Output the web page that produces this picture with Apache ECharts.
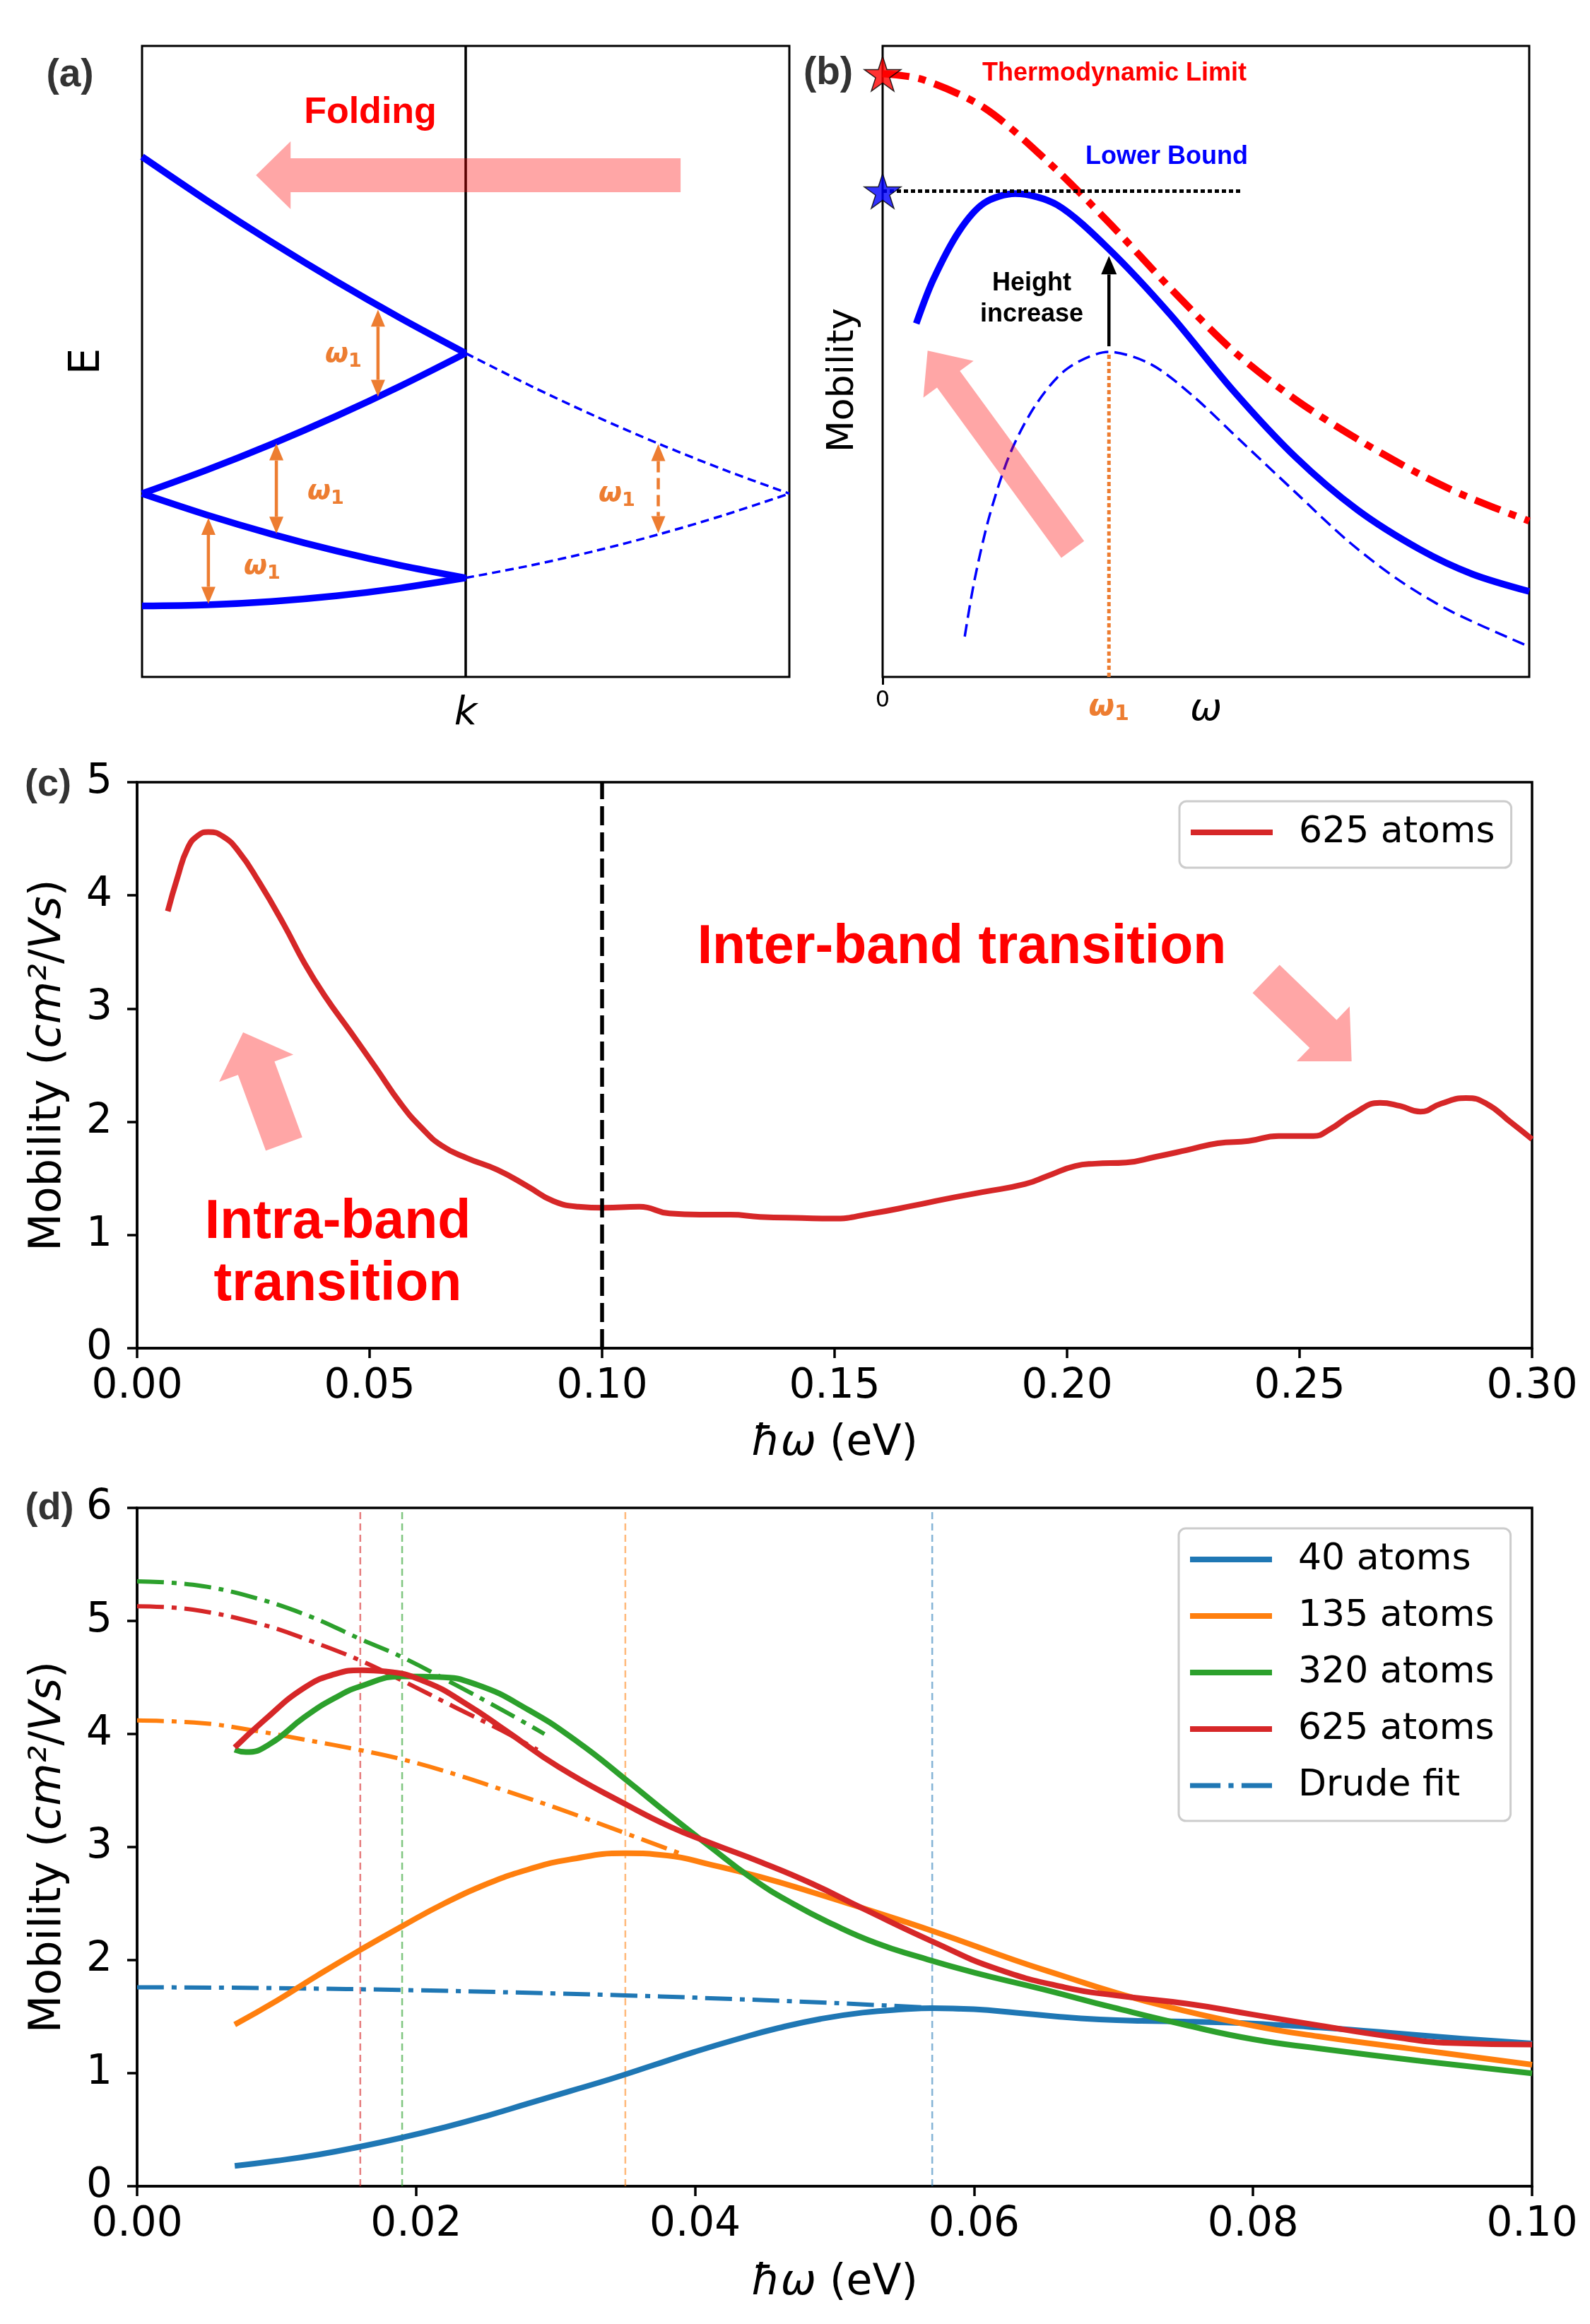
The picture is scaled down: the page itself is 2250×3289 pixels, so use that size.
<!DOCTYPE html>
<html><head><meta charset="utf-8">
<script src="https://cdn.jsdelivr.net/npm/echarts@6/dist/echarts.min.js"></script>
<style>html,body{margin:0;padding:0;background:#fff}#chart{width:2250px;height:3289px}</style>
</head><body><div id="chart"></div>
<script>
// ================= DATA =================
// Panel (a): schematic folded bands (x: k in 0..2, boundary at 1; y: E in 0..10)
const aBand1 = [[0,1.125],[0.2,1.143],[0.4,1.196],[0.6,1.285],[0.8,1.41],[1,1.57]];
const aBand2 = [[0,2.905],[0.2,2.567],[0.4,2.264],[0.6,1.997],[0.8,1.766],[1,1.57]];
const aBand3 = [[0,2.905],[0.2,3.279],[0.4,3.688],[0.6,4.133],[0.8,4.614],[1,5.13]];
const aBand4 = [[0,8.245],[0.2,7.551],[0.4,6.892],[0.6,6.269],[0.8,5.682],[1,5.13]];
const aDashLow = [[1,1.57],[1.2,1.766],[1.4,1.997],[1.6,2.264],[1.8,2.567],[2,2.905]];
const aDashUp = [[1,5.13],[1.2,4.614],[1.4,4.133],[1.6,3.688],[1.8,3.279],[2,2.905]];
const aBoundary = [[1,0],[1,10]];
const aGapArrows = [[0.729,5.82,4.44],[0.415,3.70,2.27],[0.205,2.52,1.16]]; // x, yTop, yBottom
const aGapArrowDashed = [[1.595,3.69,2.28]];
const aFoldArrow = [[1.664,7.95,0.352,7.95]]; // tail x,y -> tip x,y

// Panel (b): schematic mobility (x: omega 0..10, y: 0..10)
const bThermo = [[0,9.56],[0.61,9.47],[1.57,9.02],[2.54,8.18],[3.5,7.20],[4.46,6.15],[5.42,5.17],[6.38,4.40],[7.34,3.77],[8.31,3.21],[9.03,2.86],[10,2.47]];
const bLower = [[0.52,5.60],[0.78,6.29],[1.18,7.06],[1.57,7.51],[2.05,7.66],[2.70,7.48],[3.5,6.78],[4.46,5.73],[5.42,4.54],[6.38,3.49],[7.34,2.65],[8.31,2.02],[9.12,1.63],[10,1.355]];
const bFinite = [[1.27,0.64],[1.42,1.53],[1.66,2.58],[1.98,3.56],[2.38,4.33],[2.86,4.89],[3.5,5.15],[4.14,4.96],[4.78,4.47],[5.58,3.70],[6.38,2.93],[7.19,2.16],[7.99,1.53],[8.79,1.04],[10,0.48]];
const bPeakLevel = [[0,7.70],[5.54,7.70]];
const bOmega1 = [[3.5,0],[3.5,5.15]];
const bStars = [[0,9.56],[0,7.70]];
const bHeightArrow = [[3.5,5.24,6.67]]; // x, yFrom, yTo
const bGrowArrow = [[2.94,2.02,0.696,5.17]];
const bTicks = [0];
const bLabels = [0, 3.5];

// Panel (c): 625 atoms over wide range
const c625 = [[0.0066,3.86],[0.0087,4.16],[0.0109,4.42],[0.0131,4.53],[0.0153,4.56],[0.0185,4.52],[0.0218,4.39],[0.0262,4.12],[0.0316,3.74],[0.036,3.40],[0.0404,3.11],[0.0458,2.80],[0.0513,2.48],[0.0567,2.16],[0.0611,1.95],[0.0655,1.79],[0.0709,1.68],[0.0775,1.575],[0.084,1.43],[0.0895,1.30],[0.0949,1.25],[0.1004,1.24],[0.108,1.25],[0.1145,1.19],[0.121,1.18],[0.1276,1.18],[0.134,1.16],[0.143,1.15],[0.1495,1.145],[0.158,1.19],[0.167,1.26],[0.1735,1.315],[0.182,1.38],[0.191,1.45],[0.196,1.525],[0.2018,1.61],[0.206,1.63],[0.2127,1.64],[0.219,1.69],[0.2258,1.75],[0.2324,1.81],[0.239,1.83],[0.2455,1.875],[0.253,1.875],[0.2564,1.93],[0.2618,2.076],[0.2673,2.168],[0.2716,2.14],[0.276,2.09],[0.2804,2.16],[0.2858,2.21],[0.2902,2.16],[0.2956,1.99],[0.300,1.846]];
const cDivider = [[0.1,0],[0.1,5]];
const cArrows = [[0.0316,1.804,0.0228,2.79],[0.2428,3.262,0.2612,2.534]];

// Panel (d): size dependence
const d40 = [[0.007,0.18],[0.010,0.225],[0.013,0.28],[0.016,0.35],[0.019,0.43],[0.022,0.52],[0.025,0.62],[0.028,0.73],[0.031,0.84],[0.034,0.95],[0.037,1.07],[0.040,1.19],[0.043,1.30],[0.046,1.40],[0.049,1.48],[0.052,1.535],[0.055,1.565],[0.057,1.575],[0.060,1.565],[0.063,1.535],[0.066,1.50],[0.069,1.475],[0.072,1.462],[0.075,1.457],[0.078,1.448],[0.081,1.432],[0.084,1.41],[0.087,1.385],[0.090,1.355],[0.095,1.305],[0.100,1.262]];
const d135 = [[0.007,1.43],[0.010,1.64],[0.013,1.87],[0.016,2.09],[0.019,2.30],[0.022,2.50],[0.025,2.67],[0.028,2.80],[0.031,2.89],[0.035,2.945],[0.038,2.925],[0.0411,2.845],[0.0447,2.735],[0.0484,2.60],[0.052,2.46],[0.0572,2.25],[0.0629,2.0],[0.0665,1.855],[0.0702,1.71],[0.0738,1.59],[0.08,1.42],[0.0847,1.325],[0.092,1.205],[0.1,1.075]];
const d320 = [[0.007,3.86],[0.0078,3.84],[0.0095,3.91],[0.012,4.15],[0.0142,4.32],[0.0162,4.43],[0.019,4.51],[0.0215,4.505],[0.0244,4.434],[0.028,4.217],[0.0316,3.928],[0.0351,3.59],[0.0382,3.28],[0.041,3.01],[0.044,2.73],[0.047,2.50],[0.050,2.31],[0.053,2.15],[0.056,2.03],[0.060,1.89],[0.065,1.74],[0.070,1.58],[0.0753,1.422],[0.08,1.30],[0.0847,1.219],[0.092,1.108],[0.1,0.998]];
const d625 = [[0.007,3.88],[0.0091,4.12],[0.012,4.41],[0.0142,4.53],[0.0161,4.564],[0.0178,4.554],[0.0207,4.46],[0.0236,4.265],[0.0265,4.024],[0.0302,3.71],[0.0351,3.373],[0.0382,3.18],[0.0411,3.036],[0.0447,2.867],[0.0484,2.675],[0.052,2.458],[0.0572,2.154],[0.0615,1.928],[0.0665,1.759],[0.0702,1.687],[0.0753,1.614],[0.08,1.518],[0.0847,1.422],[0.0898,1.325],[0.0942,1.267],[0.1,1.253]];
const drude40 = [[0,1.76],[0.01,1.752],[0.02,1.733],[0.03,1.705],[0.035,1.688],[0.04,1.668],[0.05,1.62],[0.059,1.565]];
const drude135 = [[0,4.12],[0.0047,4.096],[0.0084,4.03],[0.012,3.95],[0.0161,3.855],[0.0192,3.77],[0.0229,3.64],[0.0265,3.494],[0.0302,3.34],[0.0351,3.118],[0.039,2.94]];
const drude320 = [[0,5.35],[0.004,5.32],[0.008,5.22],[0.0124,5.04],[0.016,4.84],[0.019,4.68],[0.0229,4.43],[0.0265,4.19],[0.0292,4.0]];
const drude625 = [[0,5.13],[0.004,5.10],[0.0092,4.96],[0.0125,4.82],[0.016,4.65],[0.0192,4.46],[0.0229,4.23],[0.026,4.04],[0.0287,3.86]];
const dPeaks = [0.016, 0.019, 0.035, 0.057];
const dNames = ['40 atoms','135 atoms','320 atoms','625 atoms','Drude fit'];

// ================= STYLE =================
const ORANGE = '#ED7D31';
const PINK = 'rgba(255,0,0,0.35)';
const BLUE = '#0000FF';
const TAB = {blue:'#1f77b4', orange:'#ff7f0e', green:'#2ca02c', red:'#d62728'};
const peakColors = ['rgba(214,39,40,0.6)','rgba(44,160,44,0.6)','rgba(255,127,14,0.55)','rgba(31,119,180,0.55)'];
const starColors = ['#FF0000', BLUE];
const STAR = 'path://M50,0L61.2,34.5L97.6,34.5L68.2,55.9L79.4,90.5L50,69.1L20.6,90.5L31.8,55.9L2.4,34.5L38.8,34.5Z';
const DJ = 'DejaVu Sans';
const LS = 'Liberation Sans, Arial, sans-serif';
const DASHDOT = [38, 11, 7, 11];

function lineS(name, data, gi, color, width, dash, smooth, z) {
  return {
    type:'line', name, data, xAxisIndex:gi, yAxisIndex:gi, symbol:'none', showSymbol:false,
    smooth: smooth === undefined ? 0.4 : smooth,
    lineStyle:{color, width, type: dash || 'solid', cap:'butt', join:'round'}, itemStyle:{color},
    silent:true, animation:false, z: z || 3
  };
}

function bigArrow(shaftHalf, headHalf, headLen) {
  return function (params, api) {
    const t = api.coord([api.value(0), api.value(1)]);
    const h = api.coord([api.value(2), api.value(3)]);
    const dx = h[0]-t[0], dy = h[1]-t[1];
    const L = Math.hypot(dx, dy);
    const ux = dx/L, uy = dy/L, nx = -uy, ny = ux;
    const bx = h[0]-ux*headLen, by = h[1]-uy*headLen;
    return {type:'polygon', shape:{points:[
      [t[0]+nx*shaftHalf, t[1]+ny*shaftHalf],
      [bx+nx*shaftHalf, by+ny*shaftHalf],
      [bx+nx*headHalf, by+ny*headHalf],
      [h[0], h[1]],
      [bx-nx*headHalf, by-ny*headHalf],
      [bx-nx*shaftHalf, by-ny*shaftHalf],
      [t[0]-nx*shaftHalf, t[1]-ny*shaftHalf]
    ]}, style:{fill:PINK}};
  };
}

function vArrow(color, width, hl, hw, both, dash) {
  return function (params, api) {
    const x = api.value(0);
    const a = api.coord([x, api.value(1)]);
    const b = api.coord([x, api.value(2)]);
    const dir = b[1] > a[1] ? 1 : -1;
    const kids = [];
    const startY = both ? a[1] + dir*hl : a[1];
    kids.push({type:'line', shape:{x1:a[0], y1:startY, x2:b[0], y2:b[1]-dir*hl},
      style:{stroke:color, lineWidth:width, lineDash: dash || null}});
    kids.push({type:'polygon', shape:{points:[[b[0],b[1]],[b[0]-hw,b[1]-dir*hl],[b[0]+hw,b[1]-dir*hl]]}, style:{fill:color}});
    if (both) kids.push({type:'polygon', shape:{points:[[a[0],a[1]],[a[0]-hw,a[1]+dir*hl],[a[0]+hw,a[1]+dir*hl]]}, style:{fill:color}});
    return {type:'group', children:kids};
  };
}

function customS(gi, data, renderItem, z) {
  return {type:'custom', coordinateSystem:'cartesian2d', xAxisIndex:gi, yAxisIndex:gi,
    data, renderItem, silent:true, animation:false, clip:false, z: z || 6, encode:{x:0, y:1}};
}

const tickStyle = {show:true, inside:false, length:14, lineStyle:{color:'#000', width:3.5}};
const labelStyle = {color:'#000', fontSize:58, fontFamily:DJ};
const yName = 'Mobility ({i|cm²}/{i|Vs})';
const xName = '{i|ħω} (eV)';
const nameStyle = {color:'#000', fontSize:62, fontFamily:DJ, rich:{i:{fontStyle:'italic', fontSize:62, fontFamily:DJ, color:'#000'}}};
const xNameStyle = {color:'#000', fontSize:60, fontFamily:DJ, rich:{i:{fontStyle:'italic', fontSize:60, fontFamily:DJ, color:'#000'}}};
const omegaRich = (size, sub) => ({
  w:{fontSize:size, lineHeight:size+8, fontFamily:DJ, fontWeight:'bold', fontStyle:'italic', color:ORANGE},
  s:{fontSize:sub, lineHeight:sub, fontFamily:DJ, fontWeight:'bold', color:ORANGE, verticalAlign:'bottom'}
});

const gridBase = {show:true, borderColor:'#000', backgroundColor:'transparent', containLabel:false, outerBoundsMode:'none'};

const series = [];
// ---- panel a ----
[aBand1, aBand2, aBand3, aBand4].forEach((d,i) => series.push(lineS('aBand'+i, d, 0, BLUE, 9.5, 'solid', 0.3)));
[aDashLow, aDashUp].forEach((d,i) => series.push(lineS('aDash'+i, d, 0, BLUE, 3.5, [12,7], 0.3)));
series.push(lineS('aBoundary', aBoundary, 0, '#000', 3.5, 'solid', false, 2));
series.push(customS(0, aGapArrows, vArrow(ORANGE, 4.5, 24, 10, true)));
series.push(customS(0, aGapArrowDashed, vArrow(ORANGE, 4.5, 24, 10, true, [16,8])));
series.push(customS(0, aFoldArrow, bigArrow(24, 48, 49), 8));
// ---- panel b ----
series.push(lineS('bThermo', bThermo, 1, '#FF0000', 10, [38,13,11,13], 0.3));
series.push(lineS('bLower', bLower, 1, BLUE, 9.5, 'solid', 0.3));
series.push(lineS('bFinite', bFinite, 1, BLUE, 3.5, [18,9], 0.3));
series.push(lineS('bPeakLevel', bPeakLevel, 1, '#000', 5, [6,4], false));
series.push(lineS('bOmega1', bOmega1, 1, ORANGE, 5, [6,4], false));
series.push(customS(1, bHeightArrow, vArrow('#000', 4.5, 26, 11, false)));
series.push(customS(1, bGrowArrow, bigArrow(20, 44, 50), 8));
series.push({type:'scatter', xAxisIndex:1, yAxisIndex:1, symbol:STAR, symbolSize:52, symbolKeepAspect:true,
  data: bStars.map((p,i) => ({value:p, itemStyle:{color:starColors[i]}})),
  itemStyle:{borderColor:'#000', borderWidth:1.5}, clip:false, silent:true, animation:false, z:10});
// ---- panel c ----
series.push(lineS('625 atoms', c625, 2, TAB.red, 8, 'solid', 0.5));
series.push(lineS('cDivider', cDivider, 2, '#000', 5.5, [27,10], false));
series.push(customS(2, [cArrows[0]], bigArrow(27.5, 56, 54), 8));
series.push(customS(2, [cArrows[1]], bigArrow(27.5, 54, 56), 8));
// ---- panel d ----
dPeaks.forEach((x,i) => series.push(lineS('peak'+i, [[x,0],[x,6]], 3, peakColors[i], 2.5, [10,6], false, 1)));
series.push(lineS('Drude fit', drude40, 3, TAB.blue, 6, DASHDOT, 0.4, 2));
series.push(lineS('Drude 135', drude135, 3, TAB.orange, 6, DASHDOT, 0.4, 2));
series.push(lineS('Drude 320', drude320, 3, TAB.green, 6, DASHDOT, 0.4, 2));
series.push(lineS('Drude 625', drude625, 3, TAB.red, 6, DASHDOT, 0.4, 2));
series.push(lineS('40 atoms', d40, 3, TAB.blue, 8, 'solid', 0.5, 3));
series.push(lineS('135 atoms', d135, 3, TAB.orange, 8, 'solid', 0.5, 3));
series.push(lineS('320 atoms', d320, 3, TAB.green, 8, 'solid', 0.5, 3));
series.push(lineS('625 atoms', d625, 3, TAB.red, 8, 'solid', 0.5, 3));

const legendBase = {
  orient:'vertical', itemWidth:116, itemHeight:8, itemGap:20, selectedMode:false,
  padding:[14,23,20,16], backgroundColor:'rgba(255,255,255,0.8)', borderColor:'#cccccc', borderWidth:3, borderRadius:10,
  formatter: n => '{sp| }' + n,
  textStyle:{fontSize:52, fontFamily:DJ, color:'#000', lineHeight:60, rich:{sp:{width:32, fontSize:52}}}
};
const DRUDE_ICON = 'path://M0,0H42V7H0Z M53,0H60V7H53Z M71,0H113V7H71Z';

function txt(text, x, y, size, color, opts) {
  const o = opts || {};
  const st = {
    text, fontSize:size, fontFamily: o.family || LS, fontWeight: o.weight || 'bold', fontStyle: o.style || 'normal',
    fill: color, align: o.align || 'center', verticalAlign: 'middle', textAlign: o.align || 'center', textVerticalAlign:'middle'
  };
  if (o.lh) st.lineHeight = o.lh;
  if (o.rich) st.rich = o.rich;
  return {type:'text', x, y, rotation: o.rotation || 0, z: 20, style: st};
}
const wLabel = (x, y) => txt('{w|ω}{s|1}', x, y, 38, ORANGE, {family:DJ, style:'italic', rich: omegaRich(38, 27)});

const option = {
  animation:false,
  backgroundColor:'#fff',
  grid:[
    Object.assign({left:201, top:65, width:916, height:893, borderWidth:3}, gridBase),
    Object.assign({left:1249, top:65, width:915, height:893, borderWidth:3}, gridBase),
    Object.assign({left:194, top:1107, width:1974, height:801, borderWidth:3.5}, gridBase),
    Object.assign({left:194, top:2134, width:1974, height:960, borderWidth:3.5}, gridBase)
  ],
  xAxis:[
    {gridIndex:0, type:'value', min:0, max:2, axisLine:{show:false}, axisTick:{show:false}, axisLabel:{show:false}, splitLine:{show:false},
      name:'k', nameLocation:'middle', nameGap:24, nameMoveOverlap:false, nameTextStyle:{fontStyle:'italic', fontSize:56, fontFamily:DJ, color:'#000'}},
    {gridIndex:1, type:'value', min:0, max:10, axisLine:{show:false}, splitLine:{show:false},
      axisTick:{show:true, inside:false, length:11, lineStyle:{color:'#000', width:3}, customValues:bTicks},
      axisLabel:{show:true, margin:18, customValues:bLabels, formatter: v => v === 0 ? '{z|0}' : '{w|ω}{s|1}',
        rich:Object.assign({z:{fontSize:32, fontFamily:DJ, color:'#000'}}, omegaRich(42, 30))},
      name:'ω', nameLocation:'middle', nameGap:20, nameMoveOverlap:false, nameTextStyle:{fontStyle:'italic', fontSize:54, fontFamily:DJ, color:'#000'}},
    {gridIndex:2, type:'value', min:0, max:0.3, interval:0.05, axisLine:{show:true, lineStyle:{color:'#000', width:3.5}}, splitLine:{show:false},
      axisTick:tickStyle, axisLabel:Object.assign({margin:26, showMinLabel:true, showMaxLabel:true, formatter: v => v.toFixed(2)}, labelStyle),
      name:xName, nameLocation:'middle', nameGap:105, nameMoveOverlap:false, nameTextStyle:xNameStyle},
    {gridIndex:3, type:'value', min:0, max:0.1, interval:0.02, axisLine:{show:true, lineStyle:{color:'#000', width:3.5}}, splitLine:{show:false},
      axisTick:tickStyle, axisLabel:Object.assign({margin:26, showMinLabel:true, showMaxLabel:true, formatter: v => v.toFixed(2)}, labelStyle),
      name:xName, nameLocation:'middle', nameGap:107, nameMoveOverlap:false, nameTextStyle:xNameStyle}
  ],
  yAxis:[
    {gridIndex:0, type:'value', min:0, max:10, axisLine:{show:false}, axisTick:{show:false}, axisLabel:{show:false}, splitLine:{show:false},
      name:'E', nameLocation:'middle', nameGap:47, nameRotate:90, nameMoveOverlap:false, nameTextStyle:{fontSize:60, fontFamily:DJ, color:'#000'}},
    {gridIndex:1, type:'value', min:0, max:10, axisLine:{show:false}, axisTick:{show:false}, axisLabel:{show:false}, splitLine:{show:false}},
    {gridIndex:2, type:'value', min:0, max:5, interval:1, axisLine:{show:true, lineStyle:{color:'#000', width:3.5}}, splitLine:{show:false},
      axisTick:tickStyle, axisLabel:Object.assign({margin:35, showMinLabel:true, showMaxLabel:true}, labelStyle),
      name:yName, nameLocation:'middle', nameGap:94, nameRotate:90, nameMoveOverlap:false, nameTextStyle:nameStyle},
    {gridIndex:3, type:'value', min:0, max:6, interval:1, axisLine:{show:true, lineStyle:{color:'#000', width:3.5}}, splitLine:{show:false},
      axisTick:tickStyle, axisLabel:Object.assign({margin:35, showMinLabel:true, showMaxLabel:true}, labelStyle),
      name:yName, nameLocation:'middle', nameGap:94, nameRotate:90, nameMoveOverlap:false, nameTextStyle:nameStyle}
  ],
  legend:[
    Object.assign({left:1669, top:1134, data:[{name:'625 atoms', icon:'rect'}]}, legendBase),
    Object.assign({left:1668, top:2163, data: dNames.map(n => ({name:n, icon: n === 'Drude fit' ? DRUDE_ICON : 'rect'}))}, legendBase)
  ],
  series,
  graphic:[
    txt('(a)', 99, 107, 55, '#333333'),
    txt('(b)', 1172, 104, 55, '#333333'),
    txt('(c)', 68, 1111, 54, '#333333'),
    txt('(d)', 70, 2135, 54, '#333333'),
    txt('Folding', 524, 160, 52, '#FF0000'),
    txt('Thermodynamic Limit', 1390, 104, 36, '#FF0000', {align:'left'}),
    txt('Lower Bound', 1766, 222, 36, BLUE, {align:'right'}),
    txt('Height\nincrease', 1460, 423, 36, '#000', {lh:44}),
    txt('Mobility', 1193, 538, 52, '#000', {family:DJ, weight:'normal', rotation:Math.PI/2}),
    txt('Inter-band transition', 1361, 1342, 77, '#FF0000'),
    txt('Intra-band\ntransition', 478, 1775, 77, '#FF0000', {lh:88}),
    wLabel(486, 502),
    wLabel(461, 696),
    wLabel(371, 802),
    wLabel(873, 699)
  ]
};

const chart = echarts.init(document.getElementById('chart'), null, {renderer:'canvas', width:2250, height:3289});
chart.setOption(option);
</script>
</body></html>
